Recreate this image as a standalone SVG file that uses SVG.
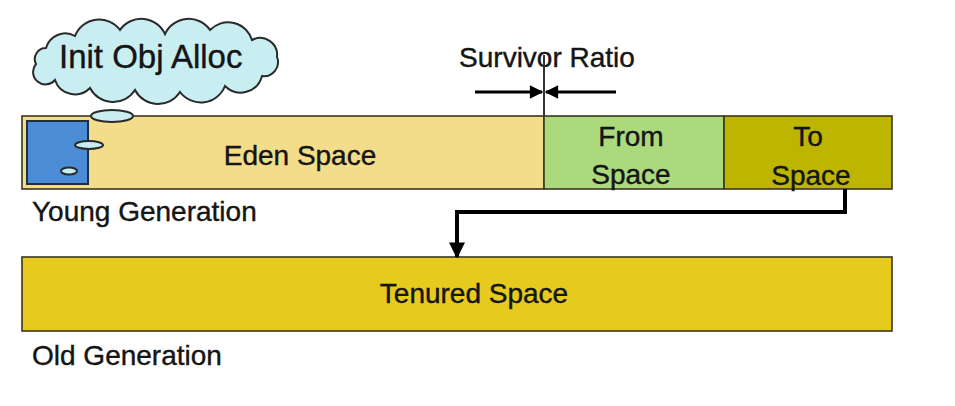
<svg xmlns="http://www.w3.org/2000/svg" width="955" height="406" viewBox="0 0 955 406">
<defs>
<style>
text{font-family:"Liberation Sans",Arial,sans-serif;font-size:28px;fill:#151515;stroke:#151515;stroke-width:0.4}
.bar{stroke:#3a3620;stroke-width:1.6}
.cloud{fill:#c8eef2;stroke:#2a2a2a;stroke-width:2}
.conn{fill:none;stroke:#000;stroke-width:4}
.ratio{fill:none;stroke:#000;stroke-width:3}
</style>
<marker id="ah" viewBox="0 0 10 10" refX="9" refY="5" markerWidth="5" markerHeight="4" orient="auto" markerUnits="strokeWidth">
<path d="M0,0 L10,5 L0,10 z" fill="#000"/>
</marker>
<marker id="ah2" viewBox="0 0 10 10" refX="9" refY="5" markerWidth="8" markerHeight="4.5" orient="auto" markerUnits="strokeWidth">
<path d="M0,0 L10,5 L0,10 z" fill="#000"/>
</marker>
</defs>
<rect width="955" height="406" fill="#fff"/>

<g id="eden">
<rect class="bar" x="22" y="116" width="522" height="73" fill="#f3dd8b"/>
<text x="300" y="165" text-anchor="middle">Eden Space</text>
</g>
<g id="from">
<rect class="bar" x="544" y="116" width="180" height="73" fill="#abd97b"/>
<text x="631" y="146" text-anchor="middle">From</text>
<text x="631" y="184" text-anchor="middle">Space</text>
</g>
<g id="to">
<rect class="bar" x="724" y="116" width="168" height="73" fill="#bdb500"/>
<text x="808" y="146" text-anchor="middle">To</text>
<text x="811" y="185" text-anchor="middle">Space</text>
</g>
<g id="object">
<rect x="27" y="121" width="61" height="63" fill="#4b8cd6" stroke="#1e3040" stroke-width="2"/>
<ellipse class="cloud" cx="112" cy="116" rx="21" ry="6" stroke-width="1.5"/>
<ellipse class="cloud" cx="89" cy="145" rx="14" ry="4" stroke-width="1.5"/>
<ellipse class="cloud" cx="69" cy="171" rx="8" ry="3.5" stroke-width="1.5"/>
</g>
<g id="init">
<path class="cloud" d="M36,64 A11,11 0 0 1 46,48 A20,20 0 0 1 75,36 A26,26 0 0 1 120,30 A26,26 0 0 1 165,34 A26,26 0 0 1 210,30 A25,25 0 0 1 252,40 A17,17 0 0 1 277,57 A14,14 0 0 1 262,76 A22,22 0 0 1 225,86 A26,26 0 0 1 180,92 A26,26 0 0 1 135,90 A26,26 0 0 1 90,88 A21,21 0 0 1 55,80 A12,12 0 0 1 36,64 Z"/>
<text x="59" y="68" style="font-size:33px">Init Obj Alloc</text>
</g>
<g id="young-label">
<text x="32" y="221">Young Generation</text>
</g>
<g id="tenured">
<rect class="bar" x="22" y="257" width="870" height="74" fill="#e6ca1e"/>
<text x="474" y="303" text-anchor="middle">Tenured Space</text>
</g>
<g id="old-label">
<text x="32" y="365">Old Generation</text>
</g>
<g id="survivor-ratio">
<text x="547" y="67" text-anchor="middle">Survivor Ratio</text>
<line x1="544" y1="55" x2="544" y2="116" stroke="#333" stroke-width="2"/>
</g>
<g id="connectors">
<line class="ratio" x1="475" y1="92" x2="542" y2="92" marker-end="url(#ah2)"/>
<line class="ratio" x1="616" y1="92" x2="546" y2="92" marker-end="url(#ah2)"/>
<path class="conn" d="M845,189 V212 H457 V257" marker-end="url(#ah)"/>
</g>
</svg>
